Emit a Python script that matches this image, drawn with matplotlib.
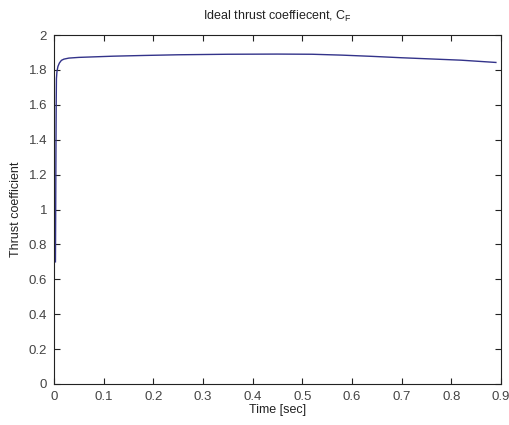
import numpy as np
import matplotlib
matplotlib.use("Agg")
import matplotlib.pyplot as plt

# thrust coefficient vs time
timeSec = [0.003, 0.0035, 0.004, 0.0045, 0.005, 0.006, 0.008, 0.011, 0.015, 0.02,
           0.03, 0.05, 0.08, 0.12, 0.18, 0.25, 0.35, 0.45, 0.52, 0.58,
           0.64, 0.70, 0.76, 0.82, 0.89]
thrustCoef = [0.70, 1.0, 1.33, 1.6, 1.75, 1.79, 1.82, 1.84, 1.855, 1.862,
              1.868, 1.872, 1.875, 1.879, 1.883, 1.887, 1.89, 1.891, 1.89, 1.885,
              1.878, 1.87, 1.863, 1.856, 1.843]

xTicks = [0, 0.1, 0.2, 0.3, 0.4, 0.5, 0.6, 0.7, 0.8, 0.9]
xTickLabels = ["0", "0.1", "0.2", "0.3", "0.4", "0.5", "0.6", "0.7", "0.8", "0.9"]
yTicks = [0, 0.2, 0.4, 0.6, 0.8, 1, 1.2, 1.4, 1.6, 1.8, 2]
yTickLabels = ["0", "0.2", "0.4", "0.6", "0.8", "1", "1.2", "1.4", "1.6", "1.8", "2"]

plt.rcParams['font.family'] = ['Liberation Sans', 'DejaVu Sans']
plt.rcParams['font.size'] = 9

fig = plt.figure(figsize=(5.09, 4.25), dpi=100)
ax = fig.add_axes([0.106, 0.0965, 0.878, 0.821])

ax.plot(timeSec, thrustCoef, color='#33338a', linewidth=1.0)

ax.set_xlim(0, 0.9)
ax.set_ylim(0, 2)
ax.set_xticks(xTicks)
ax.set_xticklabels(xTickLabels)
ax.set_yticks(yTicks)
ax.set_yticklabels(yTickLabels)
ax.tick_params(direction='in', top=True, right=True, length=4, width=0.8,
               colors='#222222', labelcolor='#444444', labelsize=9.5, pad=5)
for s in ax.spines.values():
  s.set_color('#222222')
  s.set_linewidth(0.8)

ax.set_title(r'Ideal thrust coeffiecent, C$_\mathregular{F}$', fontsize=9, color='#222222', pad=11)
ax.set_xlabel('Time [sec]', fontsize=9, color='#222222', labelpad=1)
ax.set_ylabel('Thrust coefficient', fontsize=9, color='#222222', labelpad=5)

plt.savefig('out.png', dpi=100)
